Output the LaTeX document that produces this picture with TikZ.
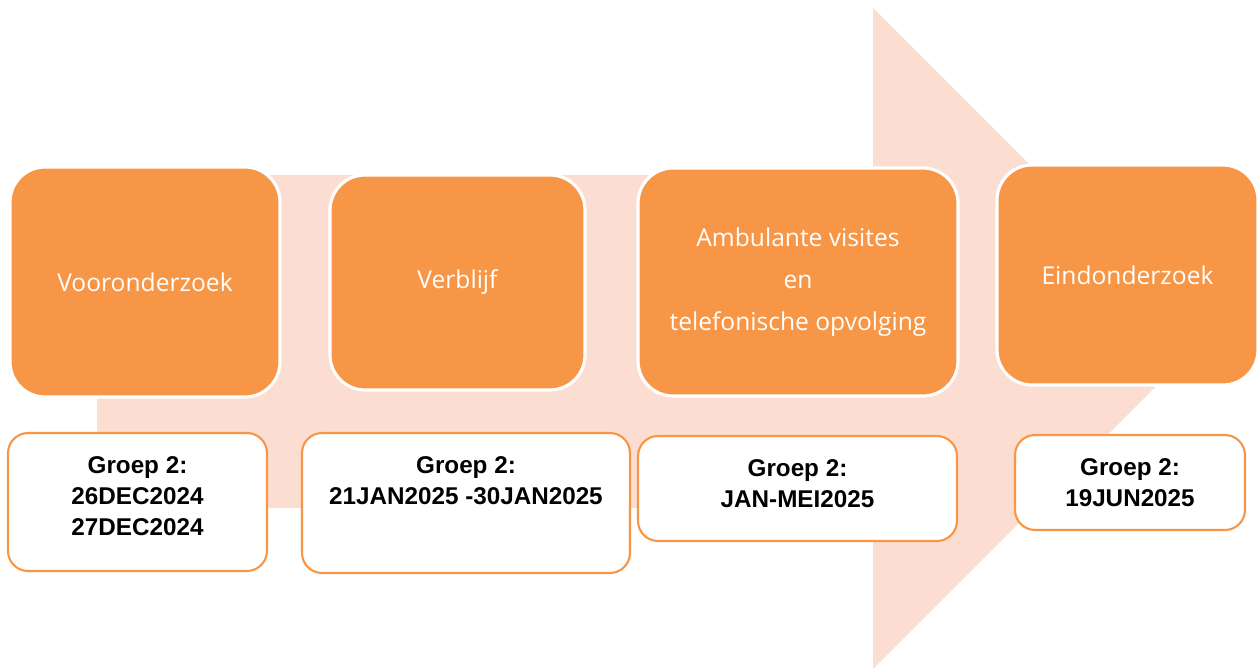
\documentclass[tikz,border=0pt]{standalone}
\usepackage{fontspec}
\setmainfont{Liberation Sans}
\newfontfamily\fasefont{Open Sans}
\usepackage{xcolor}
\definecolor{fasekleur}{HTML}{F79646}
\definecolor{pijlkleur}{HTML}{FCDDD1}

\begin{document}
\begin{tikzpicture}[x=0.02cm,y=-0.02cm,
  fase/.style={fill=fasekleur,draw=white,line width=1.8pt,rounded corners=0.7cm,
    text=white,align=center,font=\fasefont\fontsize{14}{24}\selectfont},
  datum/.style={fill=white,draw=fasekleur,line width=1.2pt,rounded corners=0.4cm},
  datumtekst/.style={anchor=north,inner sep=0pt,yshift=-0.48cm,align=center,
    font=\bfseries\fontsize{13.8}{17.6}\selectfont}]
\useasboundingbox (0,0) rectangle (1258,669);
% brede pijl op de achtergrond
\fill[pijlkleur] (97,175)--(873,175)--(873,8)--(1204,338.5)--(873,669)--(873,508)--(97,508)--cycle;
% fasen
\node[fase,minimum width=5.4cm,minimum height=4.6cm] (voor) at (145,282) {Vooronderzoek};
\node[fase,minimum width=5.1cm,minimum height=4.3cm] (verblijf) at (457.5,282.5) {Verblijf};
\node[fase,minimum width=6.4cm,minimum height=4.56cm] (ambulant) at (798,282) {Ambulante visites\\en\\telefonische opvolging};
\node[fase,minimum width=5.22cm,minimum height=4.4cm] (eind) at (1127.5,275) {Eindonderzoek};
% data
\node[datum,minimum width=5.18cm,minimum height=2.76cm,
  label={[datumtekst]north:Groep 2:\\26DEC2024\\27DEC2024}] (datumvoor) at (137.5,502) {};
\node[datum,minimum width=6.56cm,minimum height=2.8cm,
  label={[datumtekst]north:Groep 2:\\21JAN2025 -30JAN2025}] (datumverblijf) at (466,503) {};
\node[datum,minimum width=6.38cm,minimum height=2.1cm,
  label={[datumtekst]north:Groep 2:\\JAN-MEI2025}] (datumambulant) at (797.5,488.5) {};
\node[datum,minimum width=4.6cm,minimum height=1.9cm,
  label={[datumtekst]north:Groep 2:\\19JUN2025}] (datumeind) at (1130,482.5) {};
\end{tikzpicture}
\end{document}
